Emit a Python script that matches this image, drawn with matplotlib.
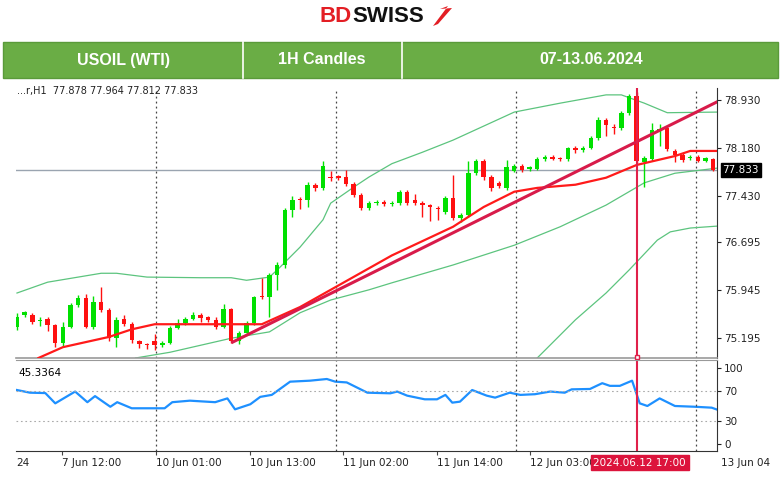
import numpy as np
import matplotlib
matplotlib.use("Agg")
from matplotlib import pyplot as plt
from matplotlib.patches import Rectangle, Polygon
import matplotlib.transforms as mtrans

# ---- data ----
opens = [75.37, 75.56, 75.56, 75.46, 75.49, 75.40, 75.12, 75.37, 75.71, 75.82,
         75.37, 75.76, 75.64, 75.20, 75.50, 75.42, 75.14, 75.10, 75.15, 75.08,
         75.12, 75.35, 75.43, 75.49, 75.55, 75.52, 75.47, 75.37, 75.65, 75.14,
         75.27, 75.43, 75.86, 75.83, 76.18, 76.34, 77.20, 77.38, 77.36, 77.60,
         77.55, 77.72, 77.73, 77.72, 77.61, 77.44, 77.24, 77.31, 77.33, 77.30,
         77.31, 77.49, 77.36, 77.31, 77.28, 77.24, 77.17, 77.39, 77.07, 77.12,
         77.78, 77.97, 77.72, 77.63, 77.55, 77.82, 77.90, 77.84, 77.85, 78.00,
         78.04, 78.01, 78.00, 78.17, 78.15, 78.18, 78.33, 78.61, 78.51, 78.49,
         78.73, 78.99, 77.95, 78.00, 78.44, 78.49, 78.13, 78.06, 78.02, 78.04,
         77.98, 78.00]
closes = [75.53, 75.60, 75.45, 75.48, 75.40, 75.12, 75.37, 75.71, 75.82, 75.37,
          75.76, 75.64, 75.20, 75.48, 75.42, 75.16, 75.10, 75.08, 75.08, 75.12,
          75.35, 75.43, 75.49, 75.55, 75.51, 75.47, 75.37, 75.65, 75.14, 75.27,
          75.43, 75.84, 75.83, 76.18, 76.34, 77.20, 77.36, 77.36, 77.60, 77.55,
          77.90, 77.70, 77.70, 77.61, 77.44, 77.24, 77.31, 77.33, 77.30, 77.31,
          77.49, 77.31, 77.31, 77.28, 77.25, 77.22, 77.39, 77.07, 77.12, 77.78,
          77.97, 77.72, 77.55, 77.58, 77.88, 77.90, 77.83, 77.88, 78.00, 78.04,
          78.01, 78.00, 78.17, 78.15, 78.18, 78.33, 78.62, 78.53, 78.49, 78.73,
          78.99, 77.97, 78.02, 78.46, 78.47, 78.16, 78.07, 77.99, 78.04, 77.97,
          78.02, 77.83]
highs = [75.58, 75.62, 75.58, 75.52, 75.52, 75.42, 75.45, 75.74, 75.87, 75.89,
         75.85, 75.99, 75.66, 75.52, 75.56, 75.45, 75.17, 75.12, 75.25, 75.14,
         75.38, 75.50, 75.52, 75.60, 75.58, 75.54, 75.52, 75.72, 75.67, 75.30,
         75.46, 75.86, 76.14, 76.22, 76.38, 77.24, 77.42, 77.40, 77.64, 77.63,
         77.97, 77.82, 77.76, 77.83, 77.64, 77.47, 77.34, 77.36, 77.36, 77.34,
         77.52, 77.52, 77.46, 77.34, 77.30, 77.27, 77.42, 77.76, 77.15, 77.98,
         78.00, 78.00, 77.75, 77.66, 77.99, 77.93, 77.93, 77.90, 78.03, 78.07,
         78.06, 78.03, 78.19, 78.20, 78.20, 78.36, 78.66, 78.64, 78.55, 78.76,
         79.02, 79.06, 78.05, 78.57, 78.55, 78.52, 78.16, 78.09, 78.06, 78.06,
         78.04, 78.02]
lows = [75.32, 75.52, 75.42, 75.38, 75.30, 75.05, 75.05, 75.35, 75.68, 75.35,
        75.33, 75.60, 75.15, 75.05, 75.38, 75.12, 75.03, 75.02, 75.00, 75.06,
        75.10, 75.33, 75.40, 75.47, 75.45, 75.44, 75.33, 75.35, 75.12, 75.10,
        75.24, 75.40, 75.80, 75.52, 75.95, 76.30, 77.10, 77.22, 77.25, 77.50,
        77.52, 77.66, 77.67, 77.58, 77.40, 77.20, 77.21, 77.28, 77.26, 77.26,
        77.28, 77.28, 77.28, 77.10, 77.03, 77.05, 77.14, 77.04, 77.02, 77.10,
        77.75, 77.68, 77.50, 77.55, 77.52, 77.80, 77.80, 77.81, 77.83, 77.98,
        77.99, 77.98, 77.98, 78.10, 78.12, 78.16, 78.30, 78.37, 78.40, 78.46,
        78.70, 77.94, 77.56, 77.98, 78.20, 78.13, 77.95, 77.96, 77.99, 77.95,
        77.96, 77.81]

bb_up_x = [0, 4, 8, 11, 13, 17, 24, 28, 30, 33, 34, 37, 40, 41, 44, 46, 49, 53, 57, 65, 71, 77, 79, 82, 85, 91.5]
bb_up = [75.90, 76.07, 76.15, 76.21, 76.21, 76.15, 76.14, 76.14, 76.10, 76.15, 76.26, 76.62, 77.05, 77.31,
         77.56, 77.72, 77.93, 78.11, 78.30, 78.74, 78.88, 79.01, 79.01, 78.88, 78.73, 78.74]
bb_mid_x = [15.5, 20, 24, 28, 33, 37, 41, 46, 49, 57, 65, 71, 77, 82, 86, 91.5]
bb_mid = [74.88, 74.97, 75.08, 75.19, 75.29, 75.59, 75.79, 75.95, 76.06, 76.34, 76.65, 76.94, 77.28, 77.63, 77.78, 77.86]
bb_lo_x = [68, 73, 77, 80, 83.7, 85.4, 88, 91.5]
bb_lo = [74.88, 75.48, 75.90, 76.26, 76.73, 76.86, 76.92, 76.95]
ma_x = [2.8, 6, 9, 12, 15, 18, 32, 37, 41, 49, 57, 61, 65, 68, 73, 77, 81, 86, 88, 91.5]
ma = [74.88, 75.05, 75.13, 75.21, 75.33, 75.41, 75.41, 75.68, 75.95, 76.49, 76.94, 77.25, 77.49, 77.55,
      77.60, 77.71, 77.91, 78.05, 78.13, 78.13]
trend_x = [28.2, 91.5]
trend_y = [75.13, 78.90]

rsi_x = [0, 1.7, 3.7, 5, 7.6, 9.2, 10.2, 12.2, 13.1, 15, 19.3, 20.3, 22.6, 25.9, 27.5, 28.5, 30.5, 31.8,
         33.3, 35.7, 38.3, 40.5, 41.6, 43.1, 45.8, 48.8, 49.7, 51, 53.3, 54.9, 56, 56.9, 57.9, 59.5, 61.4,
         62.5, 64.4, 65.8, 67.7, 69.7, 71.6, 72.5, 74.9, 76.5, 77.5, 78.8, 80.4, 81.4, 82.4, 84, 86, 88.6,
         90.8, 91.5]
rsi = [71, 67.5, 67, 53.5, 69, 55, 63, 49, 55, 47, 47, 55, 57, 55, 60, 45.6, 52.3, 62, 64.6, 82, 83.3,
       85.5, 82, 81, 67.5, 66.7, 69, 63.6, 58.8, 58.8, 64.6, 54.4, 55.7, 71, 63.6, 61, 67.5, 64.6, 65.5,
       69, 67.5, 71.9, 72.4, 80, 76.5, 76.5, 83.3, 53.5, 50, 60, 50, 49, 47.8, 45.3]

price_ticks = [75.195, 75.945, 76.695, 77.430, 78.180, 78.930]
last_price = 77.833
time_labels = ["24", "7 Jun 12:00", "10 Jun 01:00", "10 Jun 13:00", "11 Jun 02:00",
               "11 Jun 14:00", "12 Jun 03:00", "13 Jun 04"]
time_pos = [-0.1, 5.9, 18.2, 30.5, 42.6, 54.9, 67, 92]
grid_pos = [18.2, 41.7, 65.2, 88.8]
event_pos = 81
event_label = "2024.06.12 17:00"

W, H = 780, 482
UP, DOWN = "#00e000", "#ff1010"
FONT = "DejaVu Sans"

fig = plt.figure(figsize=(7.8, 4.82), dpi=100)
fig.patch.set_facecolor("white")


def fbox(x0, y0, x1, y1):
    return [x0 / W, 1 - y1 / H, (x1 - x0) / W, (y1 - y0) / H]


# logo + header
fig.text(352 / W, 1 - 16 / H, "BD", color="#e31e24", fontsize=16, fontweight="bold",
         ha="right", va="center", family="Liberation Sans")
fig.text(352 / W, 1 - 16 / H, "SWISS", color="#111111", fontsize=16, fontweight="bold",
         ha="left", va="center", family="Liberation Sans")
fig.add_artist(Polygon([(433 / W, 1 - 26 / H), (448 / W, 1 - 6 / H), (440 / W, 1 - 9 / H),
                        (452 / W, 1 - 8 / H), (438 / W, 1 - 24 / H)],
                       closed=True, transform=fig.transFigure, fc="#e31e24", ec="none"))
fig.add_artist(Rectangle((3 / W, 1 - 78 / H), 775 / W, 36 / H, transform=fig.transFigure,
                         facecolor="#6aad45", edgecolor="#5a9a3a", lw=1))
for sx in [243, 402]:
    fig.add_artist(plt.Line2D([sx / W, sx / W], [1 - 78 / H, 1 - 42 / H], color="white", lw=1.2))
for tx, t in [(124, "USOIL (WTI)"), (322, "1H Candles"), (591, "07-13.06.2024")]:
    fig.text(tx / W, 1 - 60 / H, t, color="white", fontsize=11.5, fontweight="bold",
             ha="center", va="center", family="Liberation Sans")

# main panel
ax = fig.add_axes(fbox(16, 88, 717, 358))
idx = np.arange(len(closes))
for i in idx:
    o, c = opens[i], closes[i]
    col = UP if c >= o else DOWN
    ax.vlines(i, lows[i], highs[i], color=col, lw=1, zorder=3)
    ax.bar(i, max(abs(c - o), 0.012), bottom=min(o, c), width=0.58, color=col, zorder=4, lw=0)

ax.plot(bb_up_x, bb_up, color="#5cc47e", lw=0.9, zorder=2)
ax.plot(bb_mid_x, bb_mid, color="#5cc47e", lw=0.9, zorder=2)
ax.plot(bb_lo_x, bb_lo, color="#5cc47e", lw=0.9, zorder=2)
ax.plot(ma_x, ma, color="#ff1a1a", lw=1.6, zorder=5)
ax.plot(trend_x, trend_y, color="#d81b4a", lw=2.2, zorder=6)
ax.axhline(last_price, color="#9aa4b0", lw=1, zorder=1)
for g in grid_pos:
    ax.axvline(g, color="#444444", lw=0.9, ls=(0, (1.5, 2.5)), zorder=1)
ax.axvline(event_pos, color="#e0204a", lw=1.5, zorder=7)
ax.plot([event_pos], [74.9], marker="s", ms=3.5, mfc="white", mec="#e0204a", zorder=8, clip_on=False)

ax.set_xlim(-0.13, 91.5)
ax.set_ylim(74.88, 79.118)
ax.yaxis.tick_right()
ax.set_yticks(price_ticks)
ax.set_yticklabels([f"{v:.3f}" for v in price_ticks], fontsize=7.5, family=FONT)
ax.tick_params(axis="y", length=3, pad=2, colors="#222222")
ax.set_xticks([])
for s in ["top", "left"]:
    ax.spines[s].set_visible(False)
ax.spines["right"].set_color("#333333")
ax.spines["bottom"].set_color("#999999")
ax.spines["bottom"].set_linewidth(1.2)
btr = mtrans.blended_transform_factory(ax.transAxes, ax.transData)
ax.text(1.008, last_price, f"{last_price:.3f}", transform=btr, fontsize=7.5, color="white",
        va="center", ha="left", family=FONT,
        bbox=dict(boxstyle="square,pad=0.2", fc="black", ec="black"))
fig.text(17 / W, 1 - 91 / H, "...r,H1  77.878 77.964 77.812 77.833", fontsize=7, va="center",
         family=FONT, color="#222222")

# RSI panel
ax2 = fig.add_axes(fbox(16, 360, 717, 451))
ax2.plot(rsi_x, rsi, color="#1e90ff", lw=1.6)
for lvl in [70, 30]:
    ax2.axhline(lvl, color="#aaaaaa", lw=0.8, ls=(0, (1.5, 2.5)))
for g in grid_pos:
    ax2.axvline(g, color="#444444", lw=0.9, ls=(0, (1.5, 2.5)))
ax2.axvline(event_pos, color="#e0204a", lw=1.5)
ax2.set_xlim(-0.13, 91.5)
ax2.set_ylim(-9.2, 110.5)
ax2.yaxis.tick_right()
ax2.set_yticks([0, 30, 70, 100])
ax2.set_yticklabels(["0", "30", "70", "100"], fontsize=7.5, family=FONT)
ax2.tick_params(axis="y", length=3, pad=2, colors="#222222")
ax2.set_xticks(time_pos[1:-1])
ax2.set_xticklabels([])
ax2.tick_params(axis="x", length=3, colors="#444444")
ax2.spines["top"].set_color("#999999")
ax2.spines["left"].set_visible(False)
ax2.spines["right"].set_color("#333333")
ax2.spines["bottom"].set_color("#333333")
ax2.text(0.003, 0.86, "45.3364", transform=ax2.transAxes, fontsize=7.5, family=FONT, va="center")

xtr = mtrans.blended_transform_factory(ax2.transData, ax2.transAxes)
for p, lab in zip(time_pos, time_labels):
    ax2.text(p, -0.13, lab, transform=xtr, fontsize=7.5, family=FONT, ha="left", va="center",
             color="#222222", clip_on=False)
ax2.text(event_pos + 0.4, -0.13, event_label, transform=xtr, fontsize=7.5, family=FONT,
         ha="center", va="center", color="white", zorder=10,
         bbox=dict(boxstyle="square,pad=0.25", fc="#dc143c", ec="#dc143c"))

fig.savefig("out.png", dpi=100)
